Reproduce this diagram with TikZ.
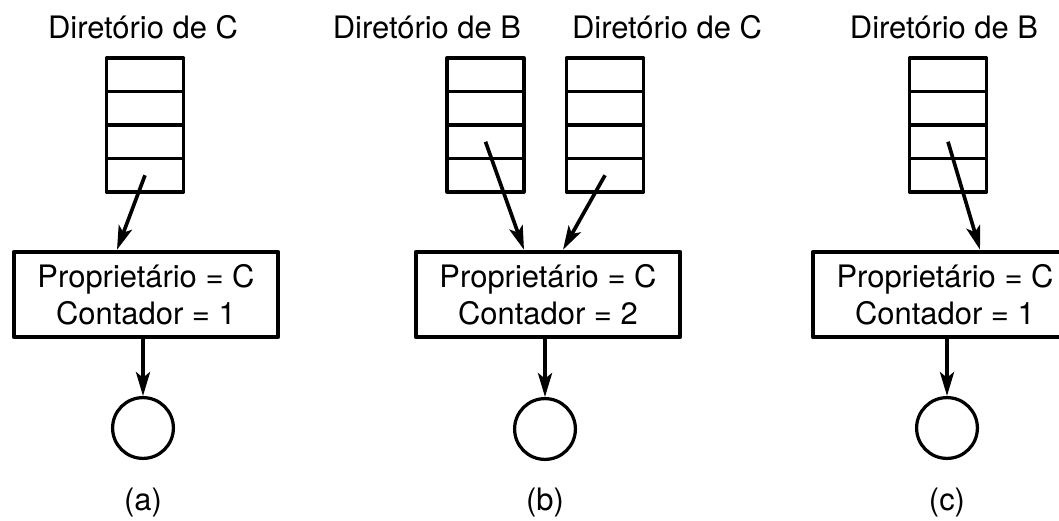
\documentclass[tikz,border=0pt]{standalone}
\usepackage{fontspec}
\setmainfont{TeX Gyre Heros}
\usetikzlibrary{arrows.meta,positioning}
\tikzset{
  cell/.style={draw, line width=2.3pt, minimum width=1.925cm, minimum height=0.8375cm, inner sep=0pt},
  owner/.style={draw, line width=3.2pt, minimum width=6.6cm, minimum height=2.125cm, align=center, inner sep=0pt},
  obj/.style={circle, draw, line width=2.3pt, minimum size=1.52cm, inner sep=0pt},
  ptr/.style={->, line width=2.6pt}
}
\begin{document}
\begin{tikzpicture}[x=0.025cm, y=-0.025cm, >={Stealth[length=17pt,width=10pt,inset=4pt]}, font=\fontsize{22}{26.3}\selectfont, line join=round]
  \useasboundingbox (0,0) rectangle (1059,520);
  % (a)
  \node (tA) at (143,27) {Diretório de C};
  \foreach \i in {1,...,4} \node[cell] (dA-\i) at (145,{58+33.5*(\i-0.5)}) {};
  \node[owner] (boxA) at (146,294.5) {Proprietário = C\\Contador = 1};
  \node[obj] (objA) at (143,428) {};
  \node (lA) at (143,502) {(a)};
  \draw[ptr] (dA-4.center) -- ([xshift=-0.725cm]boxA.north);
  \draw[ptr] (objA |- boxA.south) -- (objA.north);
  % (b)
  \node (tB1) at (427,27) {Diretório de B};
  \node (tB2) at (667,27) {Diretório de C};
  \foreach \i in {1,...,4} {
    \node[cell] (dB-\i) at (485.5,{58+33.5*(\i-0.5)}) {};
    \node[cell] (dC-\i) at (605,{58+33.5*(\i-0.5)}) {};
  }
  \node[owner] (boxB) at (548,294.5) {Proprietário = C\\Contador = 2};
  \node[obj] (objB) at (545,429) {};
  \node (lB) at (545,502) {(b)};
  \draw[ptr] (dB-3.center) -- ([xshift=-0.6cm]boxB.north);
  \draw[ptr] (dC-4.center) -- ([xshift=0.375cm]boxB.north);
  \draw[ptr] (objB |- boxB.south) -- (objB.north);
  % (c)
  \node (tD) at (944,27) {Diretório de B};
  \foreach \i in {1,...,4} \node[cell] (dD-\i) at (948,{58+33.5*(\i-0.5)}) {};
  \node[owner] (boxD) at (945,294.5) {Proprietário = C\\Contador = 1};
  \node[obj] (objD) at (947,428) {};
  \node (lD) at (947,502) {(c)};
  \draw[ptr] (dD-3.center) -- ([xshift=0.875cm]boxD.north);
  \draw[ptr] (objD |- boxD.south) -- (objD.north);
\end{tikzpicture}
\end{document}
